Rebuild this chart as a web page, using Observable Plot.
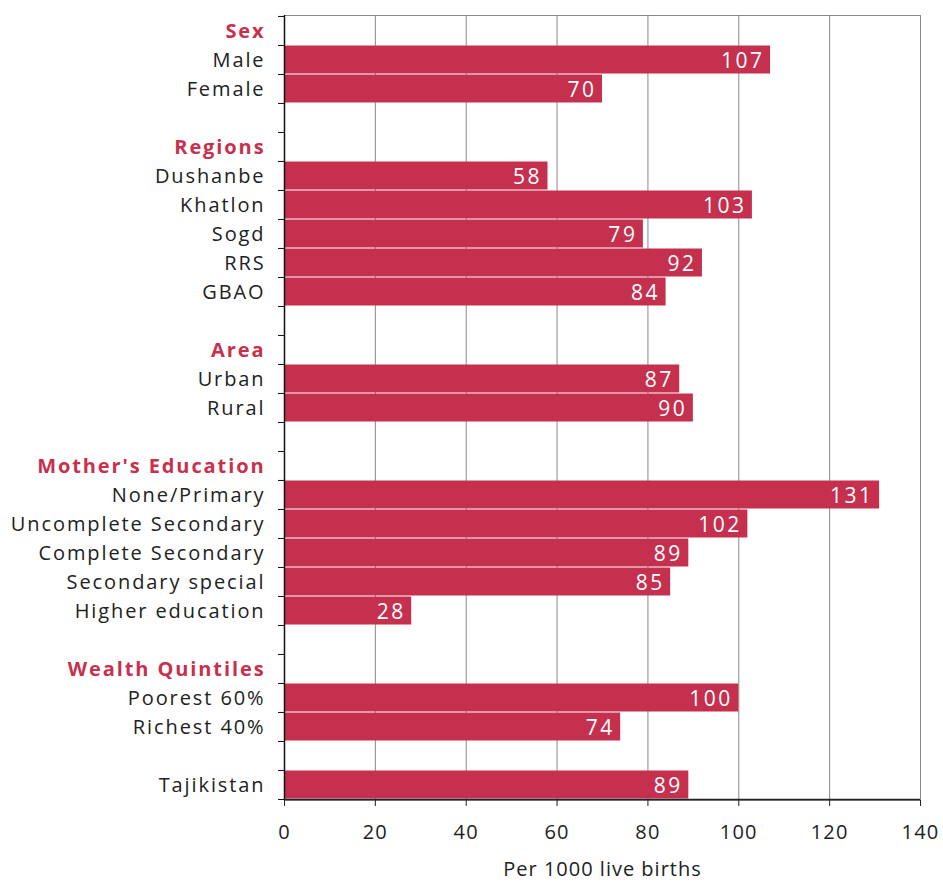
<!DOCTYPE html>
<html>
<head>
<meta charset="utf-8">
<script src="https://cdn.jsdelivr.net/npm/d3@7"></script>
<script src="https://cdn.jsdelivr.net/npm/@observablehq/plot@0.6"></script>
<style>
  html, body { margin: 0; padding: 0; background: #fff; }
  .cat text, .hdr text { letter-spacing: 1.9px; }
  .val text { letter-spacing: 2.5px; }
  .lab text { letter-spacing: 1px; }
  g[aria-label="x-axis tick label"] text { letter-spacing: 1.2px; }
</style>
</head>
<body>
<div id="chart"></div>
<script>
// Row order (blank rows keep unique keys)
const rows = ["Sex", "Male", "Female", " ",
  "Regions", "Dushanbe", "Khatlon", "Sogd", "RRS", "GBAO", "  ",
  "Area", "Urban", "Rural", "   ",
  "Mother's Education", "None/Primary", "Uncomplete Secondary", "Complete Secondary", "Secondary special", "Higher education", "    ",
  "Wealth Quintiles", "Poorest 60%", "Richest 40%", "     ",
  "Tajikistan"];
const headers = ["Sex", "Regions", "Area", "Mother's Education", "Wealth Quintiles"];
const categories = ["Male", "Female", "Dushanbe", "Khatlon", "Sogd", "RRS", "GBAO",
  "Urban", "Rural", "None/Primary", "Uncomplete Secondary", "Complete Secondary",
  "Secondary special", "Higher education", "Poorest 60%", "Richest 40%", "Tajikistan"];
const values = [107, 70, 58, 103, 79, 92, 84, 87, 90, 131, 102, 89, 85, 28, 100, 74, 89];
const xTicks = [0, 20, 40, 60, 80, 100, 120, 140];
const axisLabel = "Per 1000 live births";

const data = categories.map((c, i) => ({category: c, value: values[i]}));

const W = 943, H = 882, mL = 284, mR = 23, mT = 15, mB = 82;
const bw = (H - mT - mB) / rows.length;
const pxPerUnit = (W - mL - mR) / 140;
const barColor = "#C4304E";

const chart = Plot.plot({
  width: W, height: H,
  marginLeft: mL, marginRight: mR, marginTop: mT, marginBottom: mB,
  style: {fontFamily: "'Open Sans', sans-serif", fontSize: "20px", color: "#222", background: "#fff"},
  x: {domain: [0, 140], ticks: xTicks, label: null},
  y: {domain: rows, padding: 0, axis: null},
  marks: [
    Plot.frame({stroke: "#888"}),
    Plot.gridX(xTicks.slice(1), {stroke: "#888", strokeOpacity: 1}),
    Plot.barX(data, {x: "value", y: "category", fill: barColor, insetTop: 0.5, insetBottom: 0.5}),
    Plot.text(data, {x: "value", y: "category", text: d => String(d.value), textAnchor: "end",
      dx: -6, dy: 1, fill: "white", fontSize: 21, className: "val"}),
    Plot.ruleX([0], {stroke: "#111", strokeWidth: 1.5}),
    Plot.ruleY(["Tajikistan"], {y: d => d, x1: 0, x2: 140, dy: bw / 2, stroke: "#222", strokeWidth: 1.5}),
    // left tick marks at band boundaries
    Plot.ruleY(rows, {y: d => d, x1: -6 / pxPerUnit, x2: 0, dy: -bw / 2, stroke: "#111"}),
    Plot.ruleY(["Tajikistan"], {y: d => d, x1: -6 / pxPerUnit, x2: 0, dy: bw / 2, stroke: "#111"}),
    Plot.axisX({ticks: xTicks, tickSize: 6, tickPadding: 18, fontSize: 20, fill: "#222", label: null}),
    Plot.text(categories, {x: 0, y: d => d, text: d => d, textAnchor: "end", dx: -19, dy: 1,
      fill: "#222", fontSize: 20, className: "cat"}),
    Plot.text(headers, {x: 0, y: d => d, text: d => d, textAnchor: "end", dx: -19, dy: 1, fill: "#C8304E",
      fontSize: 20, fontWeight: "bold", className: "hdr"}),
    Plot.text([axisLabel], {frameAnchor: "bottom", text: d => d, dy: 75, fill: "#222", fontSize: 20, className: "lab"})
  ]
});
document.getElementById("chart").appendChild(chart);
</script>
</body>
</html>
